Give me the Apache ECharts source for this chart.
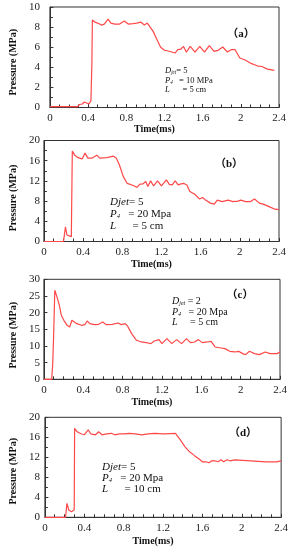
<!DOCTYPE html>
<html><head><meta charset="utf-8">
<script src="https://cdn.jsdelivr.net/npm/echarts@6/dist/echarts.min.js"></script>
<style>html,body{margin:0;padding:0;background:#fff}#c{width:291px;height:550px}</style>
</head><body><div id="c"></div>
<script>
// ---- data ----
const xTicks = ['0','0.4','0.8','1.2','1.6','2','2.4'];
const tA = [0,0.1,0.2,0.29,0.31,0.34,0.36,0.38,0.41,0.43,0.44,0.445,0.47,0.5,0.54,0.57,0.61,0.64,0.68,0.73,0.78,0.82,0.87,0.91,0.95,0.99,1.02,1.04,1.08,1.12,1.16,1.2,1.25,1.31,1.34,1.37,1.4,1.43,1.47,1.52,1.57,1.62,1.67,1.72,1.76,1.81,1.86,1.9,1.94,1.99,2.04,2.1,2.17,2.22,2.28,2.35,2.4];
const pA = [0.08,0.08,0.08,0.08,0.3,0.35,0.55,0.4,0.35,0.7,4.5,8.7,8.5,8.4,8.2,8.3,8.8,8.4,8.3,8.3,8.6,8.3,8.35,8.4,8.5,8.2,8.4,8.3,7.6,6.8,6.0,5.7,5.6,5.42,5.75,5.8,6.08,5.5,6.08,5.5,6.08,5.5,6.15,5.58,5.68,6.02,5.52,5.75,5.75,4.92,4.75,4.42,4.15,4.08,3.82,3.7];
const tB = [0,0.1,0.2,0.22,0.235,0.255,0.28,0.285,0.29,0.315,0.35,0.39,0.42,0.45,0.49,0.54,0.57,0.64,0.71,0.74,0.77,0.81,0.85,0.92,0.95,0.98,1.01,1.04,1.06,1.09,1.12,1.16,1.2,1.25,1.28,1.31,1.34,1.37,1.4,1.43,1.46,1.49,1.54,1.59,1.62,1.65,1.7,1.74,1.77,1.82,1.88,1.93,1.98,2.01,2.06,2.11,2.15,2.2,2.24,2.31,2.36,2.4];
const pB = [0,0,0,2.9,1.3,1.0,0.96,1.2,17.9,17.1,16.6,16.35,17.5,16.5,16.5,17.1,16.5,16.6,16.9,16.5,15.2,12.9,11.5,11.05,10.7,11.35,11.4,11.9,10.9,12.0,11.0,12.0,11.0,12.2,11.3,11.2,12.0,11.2,11.4,11.5,11.2,9.9,9.35,8.4,8.7,8.2,7.6,7.4,8.2,7.9,8.2,7.9,8.0,8.2,7.9,7.9,8.4,7.6,7.4,6.8,6.4,6.3];
const tC = [0,0.05,0.079,0.089,0.098,0.111,0.138,0.157,0.177,0.203,0.236,0.262,0.275,0.285,0.3,0.334,0.383,0.416,0.44,0.466,0.515,0.557,0.597,0.636,0.695,0.754,0.787,0.826,0.85,0.892,0.941,0.99,1.056,1.088,1.121,1.17,1.2,1.25,1.3,1.35,1.4,1.45,1.49,1.53,1.57,1.61,1.66,1.7,1.74,1.8,1.84,1.89,1.94,1.98,2.02,2.05,2.09,2.14,2.19,2.25,2.3,2.37,2.4];
const pC = [0,0,0,4.2,12.2,26.7,24.2,22.2,19.2,17.7,16.2,15.7,15.7,17.7,17.4,16.7,16.2,16.4,17.5,16.7,16.4,16.5,17.2,16.4,16.5,16.9,16.4,16.7,16.0,13.7,11.7,11.2,10.9,10.7,11.5,11.9,10.7,12.2,10.7,11.9,10.7,12.2,11.0,11.2,11.9,11.0,11.2,11.4,9.7,9.4,9.2,8.4,8.2,8.4,7.7,7.4,8.4,7.7,7.4,8.2,7.7,7.7,8.2];
const tD = [0,0.1,0.21,0.224,0.243,0.27,0.286,0.298,0.302,0.328,0.367,0.4,0.44,0.465,0.514,0.546,0.58,0.627,0.676,0.71,0.757,0.81,0.855,0.92,0.985,1.05,1.115,1.21,1.327,1.376,1.424,1.47,1.52,1.57,1.6,1.635,1.668,1.694,1.73,1.76,1.79,1.815,1.85,1.88,1.93,2.09,2.25,2.35,2.4];
const pD = [0,0,0,2.8,1.46,1.13,0.8,1.5,17.8,17.1,16.7,16.5,17.5,16.7,16.5,17.1,16.5,16.7,16.8,16.5,16.7,16.7,16.8,16.7,16.5,16.7,16.8,16.7,16.8,15.5,14.1,13.1,12.33,11.6,11.1,11.1,10.9,11.3,11.3,11.1,11.5,11.1,11.5,11.3,11.5,11.3,11.1,11.1,11.3];
const yMax = [10,20,30,20];
const yInterval = [2,4,5,4];
const yMinorSplit = [2,2,0,2];

const series = [[tA,pA],[tB,pB],[tC,pC],[tD,pD]];
const grids = [
  {left:37, top:7, width:242, height:100.5},
  {left:35.5, top:140.5, width:243.5, height:101},
  {left:36, top:279.3, width:244, height:100},
  {left:35.7, top:417.3, width:246, height:100}
];
const xGap = [15.5,17.5,18.4,18.7];
const yLabMargin = [10,4,4,5];
const yPad = [10,14,12,8];
const AX = '#333';
const serif = '"Liberation Serif","DejaVu Serif",serif';
const option = {
  animation:false,
  grid: grids.map(g=>Object.assign({show:true,borderColor:AX,borderWidth:1,containLabel:false},g)),
  xAxis: grids.map((g,i)=>({
    type:'value', gridIndex:i, min:0, max:2.4, interval:0.4,
    name:'Time(ms)', nameLocation:'middle', nameGap:xGap[i],
    nameTextStyle:{fontFamily:serif,fontWeight:'bold',fontSize:10,color:'#111',padding:[0,20,0,0]},
    axisLine:{lineStyle:{color:AX,width:1}},
    axisTick:{inside:true,length:3.5,lineStyle:{color:AX}},
    minorTick:{show:true,splitNumber:4,length:3,lineStyle:{color:AX}},
    splitLine:{show:false},
    axisLabel:{fontFamily:serif,fontSize:11,color:'#222',margin:5,
      formatter:(v)=>xTicks[Math.round(v/0.4)]}
  })),
  yAxis: grids.map((g,i)=>({
    type:'value', gridIndex:i, min:0, max:yMax[i], interval:yInterval[i],
    name:'Pressure (MPa)', nameLocation:'middle', nameGap:24, nameRotate:90,
    nameTextStyle:{fontFamily:serif,fontWeight:'bold',fontSize:10,color:'#111',padding:[0,yPad[i],0,0]},
    axisLine:{lineStyle:{color:AX,width:1}},
    axisTick:{inside:true,length:3.5,lineStyle:{color:AX}},
    minorTick:{show:yMinorSplit[i]>0,splitNumber:yMinorSplit[i]||1,length:3,lineStyle:{color:AX}},
    splitLine:{show:false},
    axisLabel:{fontFamily:serif,fontSize:11,color:'#222',margin:yLabMargin[i]}
  })),
  series: series.map((s,i)=>({
    type:'line', xAxisIndex:i, yAxisIndex:i, showSymbol:false, smooth:false,
    lineStyle:{color:'#ff4848',width:1.2},
    data:s[0].map((t,k)=>[t,s[1][k]])
  })),
  graphic: []
};
const rich = (fs)=>({
  i:{fontFamily:serif,fontStyle:'italic',fontSize:fs,color:'#111'},
  s:{fontFamily:serif,fontStyle:'italic',fontSize:fs*0.6,color:'#111',verticalAlign:'bottom',padding:[fs*0.4,0,0,0]},
  n:{fontFamily:serif,fontSize:fs,color:'#111'}
});
function ann(x,y,txt,fs){
  option.graphic.push({type:'text',x:x,y:y,style:{text:txt,rich:rich(fs),fontFamily:serif,fontSize:fs,fill:'#111',textVerticalAlign:'middle'}});
}
function lab(x,y,txt){
  option.graphic.push({type:'text',x:x,y:y,style:{text:txt,font:'bold 11px "Liberation Serif","Noto Sans CJK SC",serif',fill:'#111',textAlign:'center',textVerticalAlign:'middle'}});
}
// (a)
ann(165,71,'{i|D}{s|jet}{n|= 5}',8.5);
ann(165,80.5,'{i|P}{s|4}{n|   = 10 MPa}',8.5);
ann(165,90,'{i|L}{n|      = 5 cm}',8.5);
lab(241,34,'（a）');
// (b)
ann(110,202,'{i|Djet}{n|= 5}',11);
ann(110,214.5,'{i|P}{s|4}{n|   = 20 Mpa}',11);
ann(110,226.5,'{i|L}{n|      = 5 cm}',11);
lab(229,164,'（b）');
// (c)
ann(172,301,'{i|D}{s|jet}{n| = 2}',10);
ann(172,312,'{i|P}{s|4}{n|   = 20 Mpa}',10);
ann(172,322.5,'{i|L}{n|     = 5 cm}',10);
lab(240,295,'（c）');
// (d)
ann(102,467,'{i|Djet}{n|= 5}',11);
ann(102,478,'{i|P}{s|4}{n|   = 20 Mpa}',11);
ann(102,489,'{i|L}{n|      = 10 cm}',11);
lab(243,433,'（d）');

const chart = echarts.init(document.getElementById('c'),null,{renderer:'canvas'});
chart.setOption(option);
</script></body></html>
